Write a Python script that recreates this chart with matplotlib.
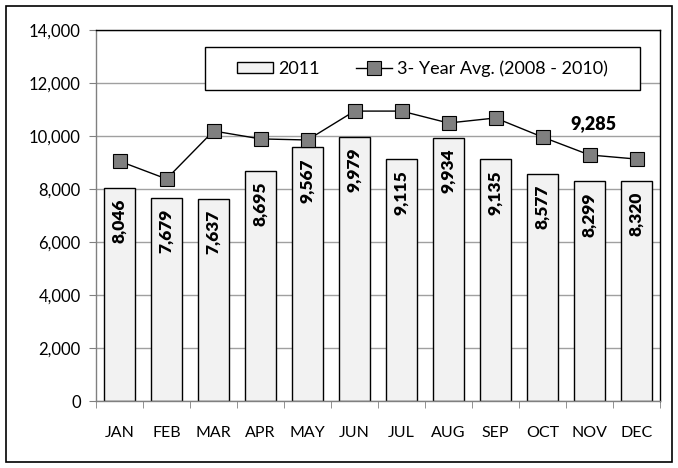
import matplotlib
matplotlib.use("Agg")
import matplotlib.pyplot as plt
from matplotlib.patches import Rectangle
from matplotlib.ticker import FuncFormatter, MultipleLocator
import numpy as np

months = ["JAN", "FEB", "MAR", "APR", "MAY", "JUN", "JUL", "AUG", "SEP", "OCT", "NOV", "DEC"]
values_2011 = [8046, 7679, 7637, 8695, 9567, 9979, 9115, 9934, 9135, 8577, 8299, 8320]
avg_3yr = [9050, 8380, 10190, 9890, 9850, 10940, 10940, 10490, 10680, 9960, 9285, 9130]
bar_label = "2011"
line_label = "3- Year Avg. (2008 - 2010)"
annot_month = 10  # NOV
annot_text = "9,285"

plt.rcParams['font.family'] = ['Lato', 'DejaVu Sans']

fig = plt.figure(figsize=(6.78, 4.68), dpi=100)
L, R, T, B = 96, 660, 30, 401
ax = fig.add_axes([L/678, 1-B/468, (R-L)/678, (B-T)/468])

x = np.arange(len(months))
ax.set_axisbelow(True)
ax.yaxis.grid(True, color="#a0a0a0", linewidth=1.0)
bars = ax.bar(x, values_2011, width=0.64, color="#f2f2f2", edgecolor="black",
              linewidth=1.0, label=bar_label, zorder=2)
line, = ax.plot(x, avg_3yr, color="black", linewidth=1.0, marker="s", markersize=10,
                markerfacecolor="#7f7f7f", markeredgecolor="black", markeredgewidth=0.8,
                label=line_label, zorder=3)

for xi, v in zip(x, values_2011):
    ax.text(xi, v - 420, f"{v:,}", rotation=90, ha="center", va="top",
            fontsize=12.5, fontweight="heavy", zorder=4)

ax.text(x[annot_month] + 0.08, avg_3yr[annot_month] + 1200, annot_text, ha="center",
        va="center", fontsize=13, fontweight="heavy")

ax.set_xlim(-0.5, len(months) - 0.5)
ax.set_ylim(0, 14000)
ax.yaxis.set_major_locator(MultipleLocator(2000))
ax.yaxis.set_major_formatter(FuncFormatter(lambda v, p: f"{int(v):,}"))
ax.set_xticks(x)
ax.set_xticklabels(months)
ax.set_xticks(np.arange(-0.5, len(months), 1.0), minor=True)
ax.tick_params(axis="x", which="major", length=0, pad=18, labelsize=11.5)
ax.tick_params(axis="x", which="minor", length=5, color="#808080", direction="out")
ax.tick_params(axis="y", length=5, color="#808080", direction="out", labelsize=12, pad=6)

for side in ["top", "right"]:
    ax.spines[side].set_color("black")
    ax.spines[side].set_linewidth(1.0)
for side in ["left", "bottom"]:
    ax.spines[side].set_color("#808080")
    ax.spines[side].set_linewidth(1.0)

# legend box
lx0, lx1, ly0, ly1 = 205, 640, 47, 90
ax.add_patch(Rectangle(((lx0-L)/(R-L), (B-ly1)/(B-T)), (lx1-lx0)/(R-L), (ly1-ly0)/(B-T),
                       transform=ax.transAxes, facecolor="white", edgecolor="black",
                       linewidth=1.0, zorder=5))
leg = ax.legend([bars, line], [bar_label, line_label], loc="center",
                bbox_to_anchor=(((lx0+lx1)/2-L)/(R-L), (B-(ly0+ly1)/2)/(B-T)),
                ncol=2, frameon=False, fontsize=13, handlelength=2.0, handleheight=0.6,
                columnspacing=2.0, handletextpad=0.3, borderpad=0, borderaxespad=0)
leg.set_zorder(6)

fig.patches.append(Rectangle((6/678, 1-462/468), (672-6)/678, (462-6)/468,
                             transform=fig.transFigure, fill=False,
                             edgecolor="black", linewidth=1.2))

fig.savefig("out.png", dpi=100)
